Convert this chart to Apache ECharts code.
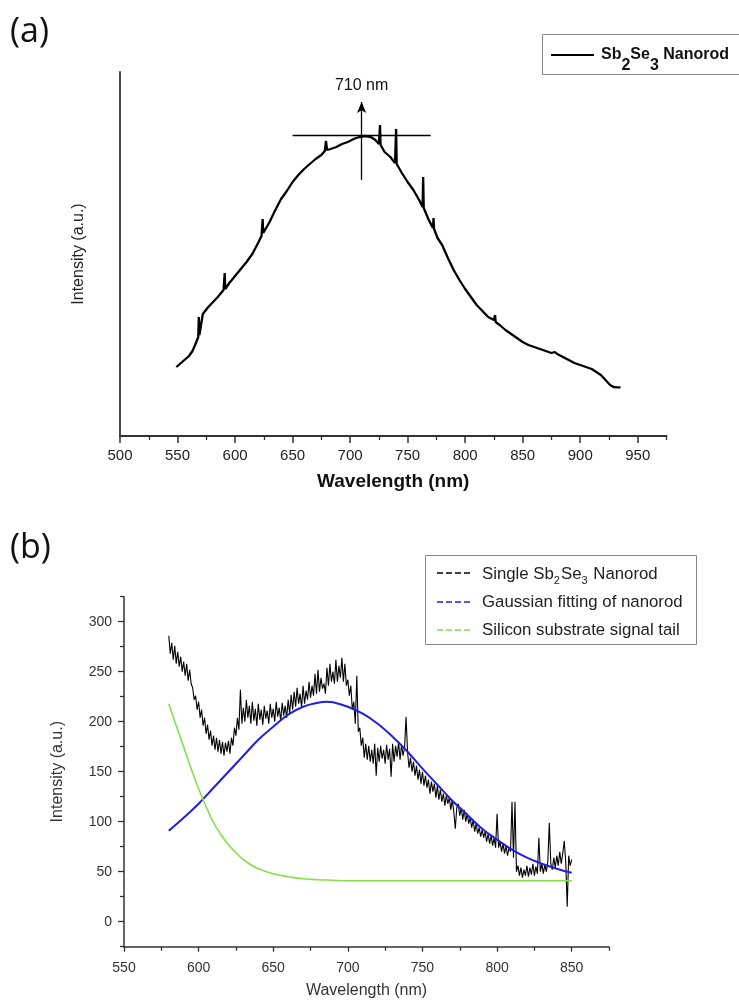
<!DOCTYPE html>
<html><head><meta charset="utf-8">
<script src="https://cdn.jsdelivr.net/npm/echarts@6/dist/echarts.min.js"></script>
<style>html,body{margin:0;padding:0;background:#fff}#c{width:739px;height:1000px}</style>
</head><body><div id="c"></div>
<script>
// ---------- Panel (a): PL spectrum of Sb2Se3 nanorod (arbitrary units) ----------
const aWavelength = [549,552,556,560,563,566,568,568.5,569,572,576,580,585,590,591,591.5,595,600,605,610,615,620,623,624,624.5,627,630,635,640,645,650,655,660,665,670,675,678,679,680,683,688,693,698,703,708,713,718,722,725,726,726.5,730,735,739,740,740.5,745,750,755,760,763,763.5,764,768,772,772.5,773,776,780,785,790,795,800,805,810,815,820,825,826,826.5,830,835,840,845,850,855,860,865,870,875,878,880,885,890,895,900,905,910,914,918,922,926,929,932,935];
const aIntensity  = [69,72,76,80,85,93,99,119,101,122,128,133,139,146,163,147,153,160,167,174,182,193,200,217,203,208,214,226,237,245,254,261,267,272,277,281,285,295,286,287,289,292,294,297,299,300,299,296,292,311,291,284,279,273,307,272,263,254,246,236,229,259,228,217,208,218,207,198,191,178,166,156,147,139,131,125,119,116,121,114,111,106,102,98,94,91,89,87,85,83,84,82,79,76,73,71,69,67,64,61,56,51,49,48.6,48.6];
const aXTicks = [500,550,600,650,700,750,800,850,900,950];
const aXMinor = [525,575,625,675,725,775,825,875,925,975];
const aPeakLabel = '710 nm';
const aPeakWl = 710;
const aPeakBar = [650, 770, 301];      // horizontal marker: from, to, level
const aArrow = [256, 334];             // vertical arrow: from, to (at aPeakWl)

// ---------- Panel (b): single nanorod with fits ----------
const bNoisyStart = 580;   // 1 nm sampling
const bNoisy = [
286,268,279,262,276,258,270,255,265,250,
260,246,258,241,252,238,234,222,226,212,
220,204,212,196,204,188,197,182,191,176,
186,172,184,170,182,168,180,166,179,170,
181,168,184,176,194,186,204,192,232,198,
214,200,222,204,216,198,220,201,213,196,
218,202,212,197,216,203,211,198,218,204,
213,200,220,205,214,201,219,206,216,204,
222,208,227,212,230,215,234,218,228,214,
236,218,231,222,240,224,236,226,248,228,
252,230,244,233,238,228,254,236,258,240,
250,238,262,240,256,244,264,240,258,236,
242,226,236,212,220,198,246,190,194,176,
184,164,178,162,176,160,172,158,178,146,
174,160,176,163,172,158,177,162,173,145,
178,160,176,165,180,162,177,166,174,205,
170,154,164,150,160,146,156,142,152,138,
150,136,146,134,142,128,140,130,138,124,
136,122,132,120,128,116,126,118,124,112,
122,110,93,114,118,106,114,102,112,100,
108,98,104,94,102,90,98,88,94,85,
92,84,90,80,88,78,86,76,84,74,
108,74,80,70,78,68,76,66,74,70,
120,64,120,50,56,46,54,44,52,46,
56,45,54,47,58,46,55,48,84,50,
58,48,57,50,60,99,58,52,64,54,
66,56,70,58,68,81,60,15,66,56,
62];
const bGaussWl  = [580,590,600,610,620,630,640,650,660,670,680,686,690,700,710,720,730,740,750,760,770,780,790,800,810,820,830,840,850];
const bGaussVal = [91,104,118,134,150,166,182,195,207,215,219,220,219.5,215,208,198,185,170,153,137,121,107,93,82,72,64,58,53,49];
const bSiWl  = [580,585,590,595,600,605,610,615,620,625,630,635,640,650,660,670,680,690,700,750,800,850];
const bSiVal = [218,196,175,153,133,115,99,87,77,69,62,57,53,48,45,43,42,41.5,41,41,41,41];
const bXTicks = [550,600,650,700,750,800,850];
const bXMinor = [575,625,675,725,775,825,875];
const bYTicks = [0,50,100,150,200,250,300];
const bYMinor = [-25,25,75,125,175,225,275,325];
const bNames = ['Single Sb2Se3 Nanorod','Gaussian fitting of nanorod','Silicon substrate signal tail'];
const bColors = ['#000000','#2020dc','#84e048'];

// ---------- build ----------
const aData = aWavelength.map((w,i)=>[w,aIntensity[i]]);
const bNoisyData = bNoisy.map((v,i)=>[bNoisyStart+i, v]);
const bGaussData = bGaussWl.map((w,i)=>[w,bGaussVal[i]]);
const bSiData = bSiWl.map((w,i)=>[w,bSiVal[i]]);

const FF = 'Liberation Sans, Arial, sans-serif';
const chart = echarts.init(document.getElementById('c'), null, {renderer:'canvas'});

function baseAxis(extra){
  return Object.assign({
    type:'value', splitLine:{show:false},
    axisLine:{show:true, onZero:false, lineStyle:{color:'#333', width:1.5}},
  }, extra);
}
function minorAxis(extra, ticks, len){
  return Object.assign({
    type:'value', splitLine:{show:false},
    axisLine:{show:false, onZero:false}, axisLabel:{show:false},
    axisTick:{show:true, length:len, customValues:ticks, lineStyle:{color:'#333', width:1.3}}
  }, extra);
}

chart.setOption({
  animation:false,
  backgroundColor:'#fff',
  grid:[
    {left:120, top:72, width:546.5, height:364},
    {left:124, top:596.7, width:485, height:350}
  ],
  xAxis:[
    baseAxis({gridIndex:0, min:500, max:975, position:'bottom',
      axisLine:{show:true, onZero:false, lineStyle:{color:'#333', width:1.8}},
      axisTick:{show:true, length:7, customValues:aXTicks, lineStyle:{color:'#333', width:1.5}},
      axisLabel:{customValues:aXTicks, color:'#222', fontSize:15, fontFamily:FF, margin:12},
      name:'Wavelength (nm)', nameLocation:'middle', nameGap:36,
      nameTextStyle:{fontSize:19, fontWeight:'bold', color:'#111', fontFamily:FF}}),
    minorAxis({gridIndex:0, min:500, max:975, position:'bottom', offset:0}, aXMinor, 4),
    baseAxis({gridIndex:1, min:550, max:875, position:'bottom',
      axisTick:{show:true, length:5, customValues:bXTicks, lineStyle:{color:'#333', width:1.3}},
      axisLabel:{customValues:bXTicks, color:'#333', fontSize:14, fontFamily:FF, margin:14},
      name:'Wavelength (nm)', nameLocation:'middle', nameGap:36,
      nameTextStyle:{fontSize:16, color:'#333', fontFamily:FF}}),
    minorAxis({gridIndex:1, min:550, max:875, position:'bottom', offset:0}, bXMinor, 4)
  ],
  yAxis:[
    baseAxis({gridIndex:0, min:0, max:364, position:'left',
      axisLine:{show:true, onZero:false, lineStyle:{color:'#333', width:1.8}},
      axisTick:{show:false}, axisLabel:{show:false},
      name:'Intensity (a.u.)', nameLocation:'middle', nameGap:33,
      nameTextStyle:{fontSize:16, color:'#222', fontFamily:FF}}),
    baseAxis({gridIndex:1, min:-25, max:325, position:'left',
      axisTick:{show:true, length:6, customValues:bYTicks, lineStyle:{color:'#333', width:1.3}},
      axisLabel:{customValues:bYTicks, color:'#333', fontSize:14, fontFamily:FF, margin:12},
      name:'Intensity (a.u.)', nameLocation:'middle', nameGap:58,
      nameTextStyle:{fontSize:16, color:'#333', fontFamily:FF}}),
    minorAxis({gridIndex:1, min:-25, max:325, position:'left', offset:0}, bYMinor, 4)
  ],
  series:[
    {type:'line', xAxisIndex:0, yAxisIndex:0, data:aData, showSymbol:false,
      lineStyle:{color:'#000', width:2.3}, z:3,
      markLine:{silent:true, symbol:['none','none'], animation:false,
        lineStyle:{color:'#000', width:1.3, type:'solid'},
        label:{show:false},
        data:[
          [{coord:[aPeakBar[0],aPeakBar[2]]},{coord:[aPeakBar[1],aPeakBar[2]]}],
          [{coord:[aPeakWl,aArrow[0]], symbol:'none',
             label:{show:true, position:'end', formatter:aPeakLabel, distance:8,
               color:'#111', fontSize:16, fontFamily:FF}},
           {coord:[aPeakWl,aArrow[1]], symbol:'arrow', symbolSize:[7,11]}]
        ]}},
    {name:bNames[0], type:'line', xAxisIndex:2, yAxisIndex:1, data:bNoisyData, showSymbol:false,
      lineStyle:{color:bColors[0], width:1.1}, z:3},
    {name:bNames[1], type:'line', xAxisIndex:2, yAxisIndex:1, data:bGaussData, showSymbol:false, smooth:0.4,
      lineStyle:{color:bColors[1], width:2}, z:4},
    {name:bNames[2], type:'line', xAxisIndex:2, yAxisIndex:1, data:bSiData, showSymbol:false, smooth:0.4,
      lineStyle:{color:bColors[2], width:1.6}, z:4}
  ],
  graphic:[
    {type:'text', left:10, top:15, style:{text:'(a)', fontSize:34, fontFamily:'Open Sans, sans-serif', fill:'#111'}},
    {type:'text', left:10, top:531, style:{text:'(b)', fontSize:34, fontFamily:'Open Sans, sans-serif', fill:'#111'}},
    // legend (a)
    {type:'rect', shape:{x:542.5, y:34.5, width:220, height:40}, style:{fill:'#fff', stroke:'#888', lineWidth:1}},
    {type:'line', shape:{x1:551, y1:55, x2:594, y2:55}, style:{stroke:'#000', lineWidth:2}},
    {type:'text', x:601, y:47, style:{
      text:'{a|Sb}{s|2}{a|Se}{s|3}{a| Nanorod}', fill:'#111',
      rich:{a:{fontSize:16, fontWeight:'bold', fontFamily:FF, fill:'#111', lineHeight:27, verticalAlign:'top'},
            s:{fontSize:16, fontWeight:'bold', fontFamily:FF, fill:'#111', lineHeight:27, verticalAlign:'bottom'}}}},
    // legend (b)
    {type:'rect', shape:{x:425.5, y:555.5, width:271, height:89}, style:{fill:'#fff', stroke:'#888', lineWidth:1}},
    {type:'line', shape:{x1:437, y1:573, x2:473, y2:573}, style:{stroke:bColors[0], lineWidth:1.6, lineDash:[6,3]}},
    {type:'line', shape:{x1:437, y1:602, x2:473, y2:602}, style:{stroke:bColors[1], lineWidth:1.6, lineDash:[6,3]}},
    {type:'line', shape:{x1:437, y1:630, x2:473, y2:630}, style:{stroke:bColors[2], lineWidth:1.6, lineDash:[6,3]}},
    {type:'text', x:482, y:566, style:{
      text:'{t|Single Sb}{s|2}{t|Se}{s|3}{t| Nanorod}',
      rich:{t:{fontSize:16.8, fontFamily:FF, fill:'#222', lineHeight:20, verticalAlign:'top'},
            s:{fontSize:11, fontFamily:FF, fill:'#222', lineHeight:20, verticalAlign:'bottom', padding:[0,1,0,0]}}}},
    {type:'text', x:482, y:602, style:{text:'Gaussian fitting of nanorod', fontSize:16.8, fontFamily:FF, fill:'#222', verticalAlign:'middle'}},
    {type:'text', x:482, y:630, style:{text:'Silicon substrate signal tail', fontSize:16.8, fontFamily:FF, fill:'#222', verticalAlign:'middle'}}
  ]
});
</script></body></html>
